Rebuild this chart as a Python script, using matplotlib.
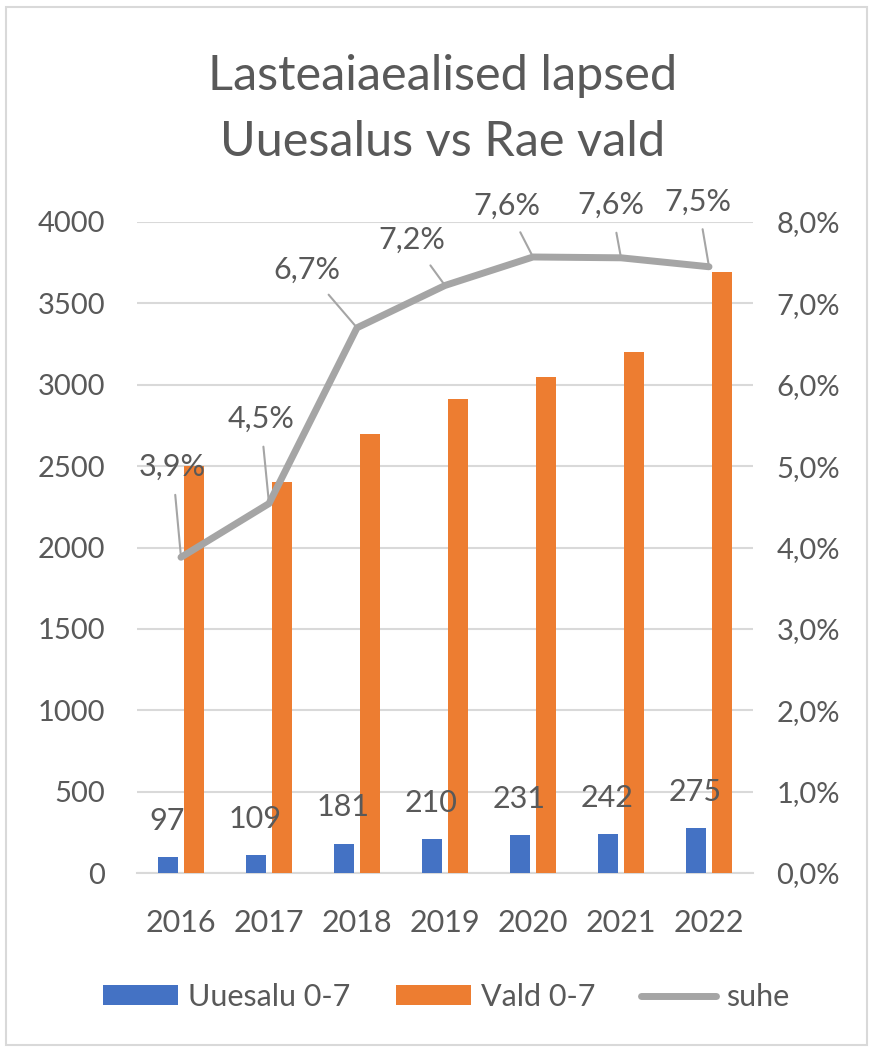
import matplotlib
matplotlib.use("Agg")
import matplotlib.pyplot as plt
from matplotlib.patches import Rectangle, Patch
from matplotlib.lines import Line2D
from matplotlib.ticker import FuncFormatter, MultipleLocator

years = ["2016", "2017", "2018", "2019", "2020", "2021", "2022"]
uuesalu = [97, 109, 181, 210, 231, 242, 275]
vald = [2500, 2400, 2700, 2910, 3050, 3200, 3690]
suhe = [3.88, 4.54, 6.70, 7.22, 7.57, 7.56, 7.45]  # percent
suhe_labels = ["3,9%", "4,5%", "6,7%", "7,2%", "7,6%", "7,6%", "7,5%"]
# label offsets (points) relative to line points
label_offsets = [(-6, 65), (-6, 61), (-36, 42), (-24, 33), (-19, 37), (-7, 38), (-8, 47)]

BLUE = "#4472C4"
ORANGE = "#ED7D31"
GRAY = "#A5A5A5"
TXT = "#595959"
GRID = "#D9D9D9"
FONT = "Lato"

plt.rcParams["font.family"] = [FONT, "DejaVu Sans"]

fig = plt.figure(figsize=(8.72, 10.49), dpi=100)
fig.patches.append(Rectangle((6 / 872, 4 / 1049), 861 / 872, 1038 / 1049,
                             transform=fig.transFigure, fill=False,
                             edgecolor=GRID, linewidth=1.5))

ax = fig.add_axes([137 / 872, 176 / 1049, 616 / 872, 651 / 1049])
ax2 = ax.twinx()

x = list(range(len(years)))
w = 0.227
off = 0.145
ax.bar([i - off for i in x], uuesalu, width=w, color=BLUE, zorder=3)
ax.bar([i + off for i in x], vald, width=w, color=ORANGE, zorder=3)

ax.set_xlim(-0.5, len(years) - 0.5)
ax.set_ylim(0, 4000)
ax.yaxis.set_major_locator(MultipleLocator(500))
ax.grid(axis="y", color=GRID, linewidth=1.5, zorder=0)
ax.set_axisbelow(True)
for s in ["top", "left", "right"]:
    ax.spines[s].set_visible(False)
ax.spines["bottom"].set_color(GRID)
ax.spines["bottom"].set_linewidth(1.5)
ax.set_xticks(x)
ax.set_xticklabels(years)
ax.tick_params(axis="x", length=0, pad=26, labelsize=22, labelcolor=TXT)
ax.tick_params(axis="y", length=0, pad=23, labelsize=21, labelcolor=TXT)

for i, v in enumerate(uuesalu):
    ax.annotate(str(v), xy=(i - off, v), xytext=(-1, 26), textcoords="offset points",
                ha="center", va="center", fontsize=22, color=TXT, zorder=5)

ax2.set_ylim(0, 8)
ax2.yaxis.set_major_locator(MultipleLocator(1))
ax2.yaxis.set_major_formatter(FuncFormatter(lambda v, p: f"{v:.1f}%".replace(".", ",")))
ax2.tick_params(axis="y", length=0, pad=17, labelsize=21, labelcolor=TXT)
for s in ["top", "left", "right", "bottom"]:
    ax2.spines[s].set_visible(False)
ax2.plot(x, suhe, color=GRAY, linewidth=5, solid_joinstyle="round",
         solid_capstyle="round", zorder=4)

for i, (v, lab, (dx, dy)) in enumerate(zip(suhe, suhe_labels, label_offsets)):
    ax2.annotate(lab, xy=(i, v), xytext=(dx, dy), textcoords="offset points",
                 ha="center", va="center", fontsize=22, color=TXT,
                 arrowprops=dict(arrowstyle="-", color=GRAY, lw=1.5,
                                 shrinkA=8, shrinkB=0))

fig.text(443 / 872, 1 - 90 / 1049, "Lasteaiaealised lapsed", ha="center", va="baseline",
         fontsize=35, color=TXT)
fig.text(443 / 872, 1 - 156 / 1049, "Uuesalus vs Rae vald", ha="center", va="baseline",
         fontsize=35, color=TXT)

handles = [Patch(facecolor=BLUE), Patch(facecolor=ORANGE),
           Line2D([0], [0], color=GRAY, linewidth=5, solid_capstyle="round")]
leg = fig.legend(handles, ["Uuesalu 0-7", "Vald 0-7", "suhe"], ncol=3,
                 loc="center", bbox_to_anchor=(446 / 872, 1 - 997 / 1049),
                 frameon=False, fontsize=22, handlelength=2.45, handleheight=0.62,
                 handletextpad=0.33, columnspacing=1.5, labelcolor=TXT)

fig.savefig("out.png", dpi=100)
